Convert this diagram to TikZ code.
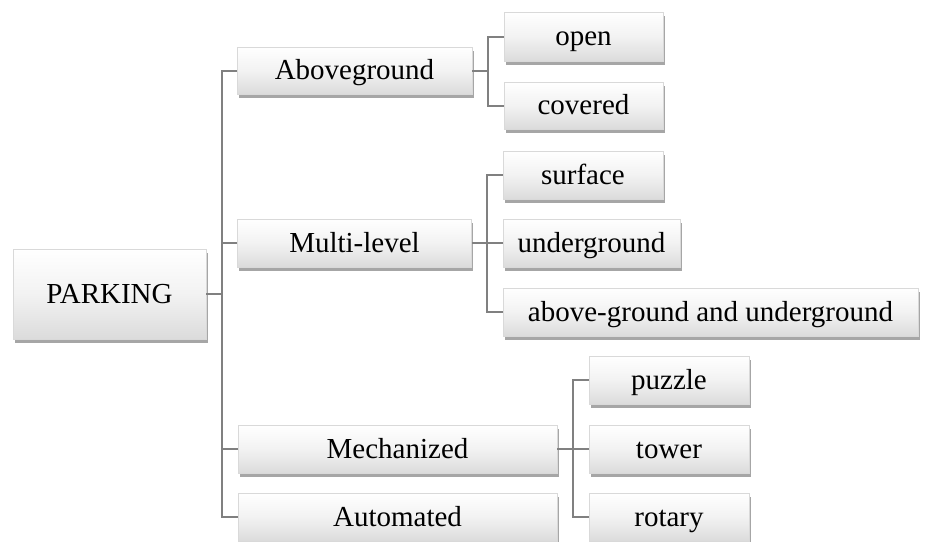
\documentclass[tikz,border=0pt]{standalone}
\usepackage{fontspec}
\setmainfont{Liberation Serif}
\usetikzlibrary{shadows}
\begin{document}
\begin{tikzpicture}[x=1pt,y=-1pt,
  box/.style={rectangle, draw=black!15, line width=0.5pt, top color=white, bottom color=black!14,
    middle color=white!95!black, shading angle=0,
    drop shadow={shadow xshift=1.5pt, shadow yshift=-4pt, opacity=0.7, fill=black!50},
    minimum height=48pt, inner sep=0pt, text height=21pt, text depth=3pt,
    font=\fontsize{29}{31}\selectfont},
  conn/.style={draw=black!50, line width=2pt}]
\useasboundingbox (0,0) rectangle (928,541);
\clip (0,0) rectangle (928,541);
\node[box, minimum width=193pt, minimum height=90pt] (park) at (109.5,294) {PARKING};
\node[box, minimum width=235pt, minimum height=47pt] (abv) at (354.5,70.5) {Aboveground};
\node[box, minimum width=234pt] (mul) at (354.5,243) {Multi-level};
\node[box, minimum width=319pt] (mech) at (397.5,449) {Mechanized};
\node[box, minimum width=319pt] (auto) at (397.5,517) {Automated};
\node[box, minimum width=159pt, minimum height=49pt] (open) at (583.5,36.5) {open};
\node[box, minimum width=159pt, minimum height=47pt] (cov) at (583.5,105.5) {covered};
\node[box, minimum width=160pt] (surf) at (583,175) {surface};
\node[box, minimum width=177pt] (und) at (591.5,243) {underground};
\node[box, minimum width=415pt] (agu) at (710.5,312) {above-ground and underground};
\node[box, minimum width=160pt] (puz) at (669,380) {puzzle};
\node[box, minimum width=160pt] (tow) at (669,449) {tower};
\node[box, minimum width=160pt] (rot) at (669,517) {rotary};
\coordinate (trunk) at (222,0);
\coordinate (bA) at (488,0);
\coordinate (bM) at (487,0);
\coordinate (bC) at (573,0);
\draw[conn] (park.east) -- (park.east -| trunk) |- (abv.west);
\draw[conn] (park.east -| trunk) |- (mul.west);
\draw[conn] (park.east -| trunk) |- (mech.west);
\draw[conn] (park.east -| trunk) |- (auto.west);
\draw[conn] (abv.east) -- (abv.east -| bA) |- (open.west);
\draw[conn] (abv.east -| bA) |- (cov.west);
\draw[conn] (mul.east) -- (mul.east -| bM) |- (surf.west);
\draw[conn] (mul.east -| bM) -- (und.west);
\draw[conn] (mul.east -| bM) |- (agu.west);
\draw[conn] (mech.east) -- (mech.east -| bC) |- (puz.west);
\draw[conn] (mech.east -| bC) -- (tow.west);
\draw[conn] (mech.east -| bC) |- (rot.west);
\end{tikzpicture}
\end{document}
